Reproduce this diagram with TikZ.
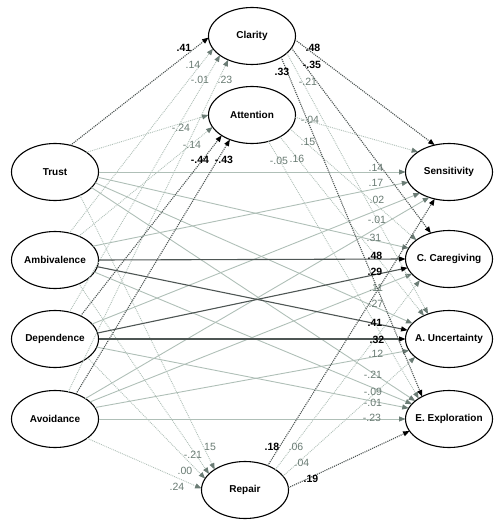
\documentclass[tikz,border=0pt]{standalone}
\usepackage{fontspec}
\setmainfont{Liberation Sans}
\usetikzlibrary{shapes.geometric,arrows.meta}
\definecolor{linelight}{HTML}{AFBFB7}
\definecolor{linedark}{HTML}{4E5654}
\definecolor{labgrey}{HTML}{687A72}
\definecolor{arrowgrey}{HTML}{6B7C75}
\tikzset{
  var/.style={ellipse, draw=black, line width=1.1pt, fill=white, minimum width=87pt, minimum height=57pt, inner sep=0pt, outer sep=0pt, font=\fontsize{10}{12}\selectfont\bfseries},
  ns/.style={draw=linelight, line width=0.9pt, -{Triangle[length=6.5pt,width=5pt,color=arrowgrey]}},
  sig/.style={draw=linedark, line width=1.1pt, -{Triangle[length=6.5pt,width=5pt,color=black]}},
  med/.style={densely dotted},
  lab/.style={font=\fontsize{10.5}{12}\selectfont, text=labgrey, inner sep=0pt},
  slab/.style={font=\fontsize{10.5}{12}\selectfont\bfseries, text=black, inner sep=0pt},
}
\newcommand{\nm}[1]{\makebox[0pt][c]{#1}}
\begin{document}
\begin{tikzpicture}[x=1pt,y=-1pt]
\useasboundingbox (0,0) rectangle (500,524);
% nodes
\node[var] (t)  at (55,172) {\nm{Trust}};
\node[var] (a)  at (55,260) {\nm{Ambivalence}};
\node[var] (d)  at (55,339) {\nm{Dependence}};
\node[var] (v)  at (55,419) {\nm{Avoidance}};
\node[var] (cl) at (252,36) {\nm{Clarity}};
\node[var] (at) at (252,115) {\nm{Attention}};
\node[var] (re) at (245,490) {\nm{Repair}};
\node[var] (se) at (449,172) {\nm{Sensitivity}};
\node[var] (ca) at (449,259) {\nm{C. Caregiving}};
\node[var] (un) at (449,339) {\nm{A. Uncertainty}};
\node[var] (ex) at (449,419) {\nm{E. Exploration}};
% non-significant direct paths
\draw[ns] (t.0) -- (se.180);
\draw[ns] (t.-7) -- (ca.165);
\draw[ns] (t.-15) -- (un.157);
\draw[ns] (t.-23) -- (ex.152);
\draw[ns] (a.20) -- (se.194);
\draw[ns] (a.-17) -- (ex.158);
\draw[ns] (d.22) -- (se.216);
\draw[ns] (d.-11) -- (ex.165);
\draw[ns] (v.34) -- (se.232);
\draw[ns] (v.26) -- (ca.202);
\draw[ns] (v.16) -- (un.196);
\draw[ns] (v.0) -- (ex.180);
% non-significant mediated paths
\draw[ns,med] (t.32) -- (at.180);
\draw[ns,med] (t.-43) -- (re.146);
\draw[ns,med] (a.62) -- (cl.198);
\draw[ns,med] (a.45) -- (at.197);
\draw[ns,med] (a.-45) -- (re.156);
\draw[ns,med] (d.62) -- (cl.211);
\draw[ns,med] (d.-30) -- (re.164);
\draw[ns,med] (v.64) -- (cl.225);
\draw[ns,med] (v.-31) -- (re.178);
\draw[ns,med] (cl.-26) -- (un.130);
\draw[ns,med] (at.-3) -- (se.147);
\draw[ns,med] (at.-20) -- (ca.150);
\draw[ns,med] (at.-38) -- (un.137);
\draw[ns,med] (at.-58) -- (ex.146);
\draw[ns,med] (re.34) -- (ca.216);
\draw[ns,med] (re.20) -- (un.208);
% significant direct paths
\draw[sig] (a.0) -- (ca.180);
\draw[sig] (a.-9) -- (un.168);
\draw[sig] (d.8) -- (ca.192);
\draw[sig] (d.0) -- (un.180);
% significant mediated paths
\draw[sig,med] (t.60) -- (cl.182);
\draw[sig,med] (d.42) -- (at.214);
\draw[sig,med] (v.50) -- (at.228);
\draw[sig,med] (cl.-5) -- (se.118);
\draw[sig,med] (cl.-17) -- (ca.125);
\draw[sig,med] (cl.-36) -- (ex.140);
\draw[sig,med] (re.47) -- (se.242);
\draw[sig,med] (re.3) -- (ex.197);
% labels: into Clarity
\node[slab] (l1) at (184,48) {.41};
\node[lab] (l2) at (193,65) {.14};
\node[lab] (l3) at (200,80) {-.01};
\node[lab] (l4) at (225,80) {.23};
% into Attention
\node[lab] (l5) at (181,128) {-.24};
\node[lab] (l6) at (192,145) {-.14};
\node[slab] (l7) at (200,160) {-.44};
\node[slab] (l8) at (224,160) {-.43};
% out of Clarity
\node[slab] (l9) at (313,48) {.48};
\node[slab] (l10) at (312,65) {-.35};
\node[slab] (l11) at (282,72) {.33};
\node[lab] (l12) at (308,82) {-.21};
% out of Attention
\node[lab] (l13) at (310,120) {-.04};
\node[lab] (l14) at (308,142) {.15};
\node[lab] (l15) at (279,161) {-.05};
\node[lab] (l16) at (297,159) {.16};
% into Sensitivity
\node[lab] (l17) at (376,168) {.14};
\node[lab] (l18) at (376,183) {.17};
\node[lab] (l19) at (377,200) {.02};
\node[lab] (l20) at (377,220) {-.01};
% into Caregiving
\node[lab] (l21) at (374,238) {.31};
\node[slab] (l22) at (375,256) {.48};
\node[slab] (l23) at (375,272) {.29};
\node[lab] (l24) at (376,288) {.11};
% into Uncertainty
\node[lab] (l25) at (376,304) {.27};
\node[slab] (l26) at (375,323) {.41};
\node[slab] (l27) at (377,340) {.32};
\node[lab] (l28) at (376,354) {.12};
% into Exploration
\node[lab] (l29) at (373,375) {-.21};
\node[lab] (l30) at (373,392) {-.09};
\node[lab] (l31) at (373,403) {-.01};
\node[lab] (l32) at (372,418) {-.23};
% out of Repair
\node[slab] (l33) at (272,447) {.18};
\node[lab] (l34) at (296,447) {.06};
\node[lab] (l35) at (302,463) {.04};
\node[slab] (l36) at (311,479) {.19};
% into Repair
\node[lab] (l37) at (210,447) {15};
\node[lab] (l38) at (193,455) {-.21};
\node[lab] (l39) at (185,471) {.00};
\node[lab] (l40) at (177,487) {.24};
\end{tikzpicture}
\end{document}
